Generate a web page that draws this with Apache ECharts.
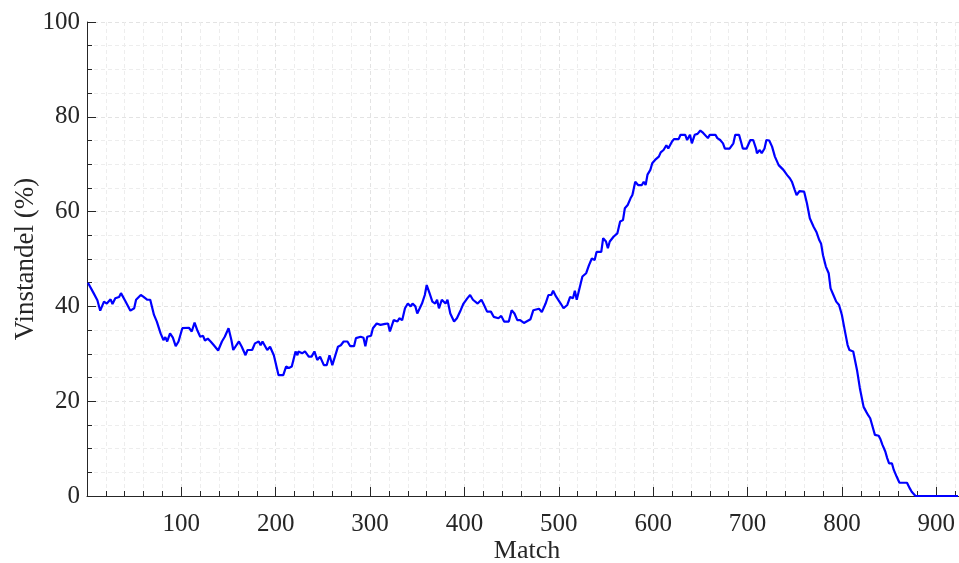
<!DOCTYPE html>
<html>
<head>
<meta charset="utf-8">
<script src="https://cdn.jsdelivr.net/npm/echarts@6/dist/echarts.min.js"></script>
<style>
html,body{margin:0;padding:0;background:#fff;}
#chart{width:959px;height:563px;}
</style>
</head>
<body>
<div id="chart"></div>
<script>
const xName = "Match";
const yName = "Vinstandel (%)";
const matches = [1,3,7,11,14,18,21,25,27,30,34,36,41,46,50,52,57,60,62,64,67,71,74,78,81,83,85,88,91,94,97,101,108,111,114,117,120,123,125,128,131,134,139,143,146,150,153,155,161,164,168,170,175,178,182,184,186,188,191,194,198,203,208,211,214,217,221,223,224,228,231,235,238,241,244,247,251,254,257,260,262,266,269,272,276,279,283,285,290,293,295,297,301,303,307,311,313,316,319,321,325,329,331,334,337,340,343,345,348,350,352,355,358,360,363,366,369,371,373,376,380,382,385,389,392,396,399,403,406,409,411,414,418,420,424,428,431,433,436,439,442,447,450,453,456,459,463,470,473,479,482,486,489,492,494,497,502,505,509,512,515,517,519,521,525,529,532,535,538,540,545,547,550,552,554,558,562,565,568,570,573,576,578,581,584,588,590,592,594,597,599,602,606,608,611,614,616,620,622,627,629,634,636,639,641,644,647,650,653,655,658,660,666,668,671,674,676,681,685,687,691,693,695,699,703,706,709,710,713,715,718,720,723,726,729,733,735,738,742,745,747,750,752,755,760,763,766,768,770,773,776,778,780,783,786,788,791,794,797,800,803,806,808,812,816,819,823,826,828,830,833,835,839,841,843,846,848,850,853,855,858,861,869,872,874,878,923];
const winPct = [45,44.9,42.8,41.3,39.1,41,40.6,41.5,40.5,41.7,42,42.8,41,39.1,39.6,41.4,42.4,42,42.4,41.4,41.4,38.2,36.8,34.3,32.9,33.5,32.6,34.3,33.4,31.6,32.6,35.4,35.5,34.7,36.6,34.9,33.6,33.8,32.8,33.2,32.6,31.9,30.7,32.6,33.6,35.4,32.9,30.8,32.6,31.5,29.7,30.8,30.8,32.2,32.6,31.8,32.6,32.6,30.8,31.5,29.7,25.5,25.5,27.3,27,27.3,30.5,29.7,30.5,30.1,30.5,29.4,29.4,30.5,28.7,29.4,27.6,27.6,29.7,27.6,27.6,31.5,31.8,32.6,32.6,31.6,31.6,33.3,33.6,33.4,31.6,33.6,33.8,35.4,36.4,36.1,36.4,36.3,36.4,34.7,37.1,36.8,37.5,37.1,39.6,40.6,40,40.6,40,38.5,38.9,40.6,42.4,44.5,42.8,41,40.6,41.4,39.6,41.4,40.6,41.4,38.5,36.8,37.5,39.2,40.6,41.7,42.4,41.4,41.4,40.6,41.4,40.6,38.9,38.9,37.8,38.2,37.5,38,36.8,36.8,39.2,38.5,37.1,37.1,36.5,37.3,39.2,39.5,38.8,40.6,42.4,42.4,43.3,42.1,40.6,39.6,40.3,42,41.7,43.3,41.4,41.6,46.3,47,48.7,50.1,49.8,51.5,51.5,54.4,53.7,52.3,53.7,54.7,55.4,57.9,58.2,60.7,61.4,62.8,63.5,66.3,65.6,65.6,66.3,65.6,67.8,68.8,70.2,70.9,71.6,72.5,73,74,73.3,74.8,75.3,75.3,76.2,76.2,75.1,76.2,74.4,76.2,76.4,77.1,76.6,76.2,75.5,76.2,76.2,75.5,75.1,74.4,73.3,73.3,74.4,76.2,76.2,74.8,73.3,73.3,75.1,75.1,73.3,72.3,73,72.3,73.3,75.1,75,73.7,71.6,69.8,69.5,68.8,67.7,67,66.3,64.6,63.5,64.3,64.2,61.7,58.6,58.2,56.8,55.7,54,53.2,50.8,48.4,47,43.8,42.4,41,40.3,38.2,35,31.9,30.8,30.5,26.6,22.8,18.8,17.7,17,16.4,14.3,12.9,12.7,11.9,10.8,9.4,8,6.9,6.9,5.5,4.1,2.8,2.8,1.6,0.9,0,0];

const seriesData = matches.map((m, i) => [m, winPct[i]]);
const axisColor = '#262626';
const fontFam = '"Liberation Serif", "Times New Roman", serif';

const chart = echarts.init(document.getElementById('chart'), null, {renderer: 'canvas'});
chart.setOption({
  animation: false,
  backgroundColor: '#ffffff',
  grid: {left: 87, right: -15, top: 22, bottom: 67, containLabel: false, outerBoundsMode: 'none'},
  xAxis: {
    type: 'value', min: 0, max: 940, interval: 100,
    name: xName, nameLocation: 'middle', nameGap: 42, nameMoveOverlap: false,
    nameTextStyle: {fontFamily: fontFam, fontSize: 26, color: axisColor, padding: [0, 7, 0, 0]},
    axisLine: {show: true, onZero: false, lineStyle: {color: axisColor, width: 1}},
    axisTick: {show: true, inside: true, length: 9, lineStyle: {color: axisColor}},
    minorTick: {show: true, splitNumber: 5, length: 5, lineStyle: {color: axisColor}},
    axisLabel: {fontFamily: fontFam, fontSize: 25, color: axisColor, margin: 16,
      showMinLabel: false, showMaxLabel: false,
      formatter: v => ((v > 0 && v <= 900 && v % 100 === 0) ? String(v) : '')},
    splitLine: {show: true, lineStyle: {color: '#e3e3e3', type: [4, 3], width: 1}},
    minorSplitLine: {show: true, lineStyle: {color: '#ededed', type: [4, 3], width: 1}}
  },
  yAxis: {
    type: 'value', min: 0, max: 100, interval: 20,
    name: yName, nameLocation: 'middle', nameGap: 48, nameMoveOverlap: false,
    nameTextStyle: {fontFamily: fontFam, fontSize: 27, color: axisColor},
    axisLine: {show: true, lineStyle: {color: axisColor, width: 1}},
    axisTick: {show: true, inside: true, length: 9, lineStyle: {color: axisColor}},
    minorTick: {show: true, splitNumber: 4, length: 5, lineStyle: {color: axisColor}},
    axisLabel: {fontFamily: fontFam, fontSize: 25, color: axisColor, margin: 7},
    splitLine: {show: true, lineStyle: {color: '#e3e3e3', type: [4, 3], width: 1}},
    minorSplitLine: {show: true, lineStyle: {color: '#ededed', type: [4, 3], width: 1}}
  },
  series: [{
    type: 'line',
    data: seriesData,
    showSymbol: false,
    symbol: 'none',
    clip: false,
    lineStyle: {color: '#0000ff', width: 2.2},
    z: 5
  }]
});
</script>
</body>
</html>
